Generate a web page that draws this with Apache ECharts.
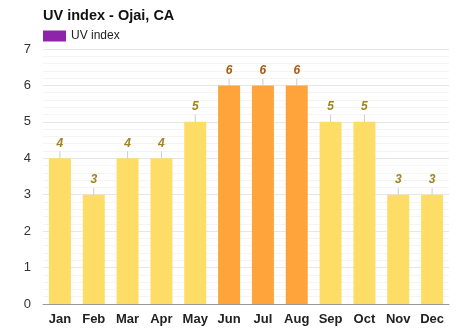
<!DOCTYPE html>
<html><head><meta charset="utf-8">
<script src="https://cdn.jsdelivr.net/npm/echarts@6/dist/echarts.min.js"></script>
<style>html,body{margin:0;padding:0;background:#fff}#c{width:474px;height:331px}</style>
</head><body><div id="c"></div>
<script>
const months = ['Jan','Feb','Mar','Apr','May','Jun','Jul','Aug','Sep','Oct','Nov','Dec'];
const uvIndex = [4,3,4,4,5,6,6,6,5,5,3,3];
const yTicks = [0,1,2,3,4,5,6,7];

const chart = echarts.init(document.getElementById('c'));
const isHigh = v => v >= 6;
chart.setOption({
  animation:false,
  textStyle:{fontFamily:'Liberation Sans, Arial, sans-serif'},
  title:{text:'UV index - Ojai, CA',left:43,top:8,padding:0,textStyle:{fontSize:14.5,fontWeight:'bold',color:'#111'}},
  legend:{left:43,top:30,padding:0,itemWidth:23,itemHeight:11,icon:'rect',data:['UV index'],textStyle:{fontSize:12,color:'#222'},itemGap:4},
  grid:{left:43,right:25,top:49,bottom:27},
  xAxis:{type:'category',data:months,axisTick:{show:false},axisLine:{lineStyle:{color:'#999'}},
    axisLabel:{fontWeight:'bold',fontSize:13,color:'#222',margin:9}},
  yAxis:{type:'value',min:yTicks[0],max:yTicks[yTicks.length-1],interval:1,
    axisLabel:{fontSize:13,color:'#333',margin:12},
    splitLine:{lineStyle:{color:'#e6e6e6'}},
    minorTick:{show:false,splitNumber:5},
    minorSplitLine:{show:true,lineStyle:{color:'#f4f4f4'}}},
  series:[
    {name:'UV index',type:'bar',barWidth:22,color:'#8e24aa',
     data:uvIndex.map(v=>({value:v,itemStyle:{color:isHigh(v)?'#ffa33a':'#fedd66'},
       label:{color:isHigh(v)?'#a85a10':'#a08420'}})),
     label:{show:true,position:'top',distance:9,fontStyle:'italic',fontWeight:'bold',fontSize:12}},
    {type:'custom',name:'ticks',silent:true,data:uvIndex.map((v,i)=>[i,v]),z:3,
     renderItem:(p,api)=>{const pt=api.coord([api.value(0),api.value(1)]);
       return {type:'line',shape:{x1:pt[0],y1:pt[1],x2:pt[0],y2:pt[1]-7},style:{stroke:'#ccc',lineWidth:1}};}}
  ]
});
</script></body></html>
